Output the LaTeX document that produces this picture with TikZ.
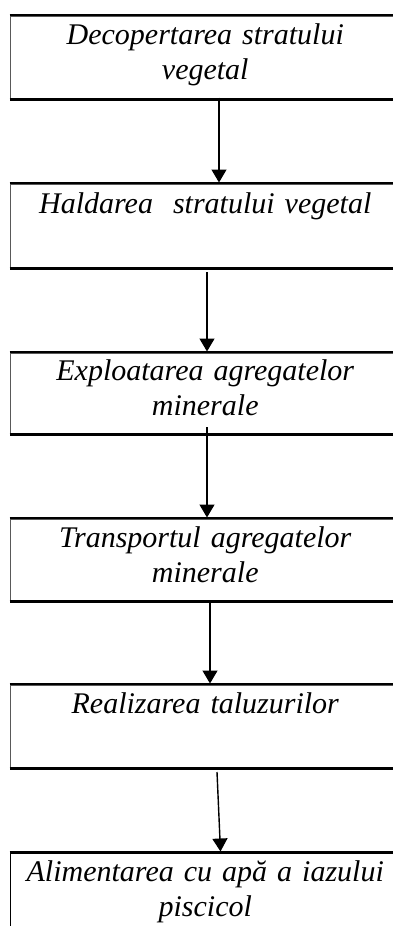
\documentclass[tikz,border=0pt]{standalone}
\usepackage{fontspec}
\setmainfont{Liberation Serif}
\usepackage{tikz}
\usetikzlibrary{arrows.meta, positioning}
\tikzset{
    stepbox/.style={draw=black!65, line width=1.5pt, anchor=north west,
        text width=380pt, inner xsep=5pt, inner ysep=2pt, align=center,
        font=\fontsize{30}{35}\selectfont\itshape},
    boxedge/.style={line width=2.6pt, black},
    flowarrow/.style={-{Triangle[length=13pt, width=15pt]}, line width=1.4pt, black}
}
\begin{document}
\begin{tikzpicture}[x=1pt, y=-1pt]
                    \clip (0,0) rectangle (393,926);
                    \fill[white] (0,0) rectangle (393,926);
                    % process steps
                    \node[stepbox, minimum height=83pt] (decop) at (9.5,15) {Decopertarea stratului\\ vegetal\strut};
                    \node[stepbox, minimum height=84pt] (hald) at (9.5,183) {Haldarea\ \ stratului vegetal\\ \strut};
                    \node[stepbox, minimum height=81pt] (exploat) at (9.5,352) {Exploatarea agregatelor\\ minerale\strut};
                    \node[stepbox, minimum height=82pt] (transp) at (9.5,518) {Transportul agregatelor\\ minerale\strut};
                    \node[stepbox, minimum height=83pt] (taluz) at (9.5,684) {Realizarea taluzurilor\\ \strut};
                    \node[stepbox, draw=black, inner ysep=8pt] (alim) at (9.5,852) {Alimentarea cu apă a iazului\\ piscicol\\ \strut};

                    % thick top and bottom edges
                    \foreach \n in {decop, hald, exploat, transp, taluz, alim}
                        \draw[boxedge] (\n.north west) -- (\n.north east) (\n.south west) -- (\n.south east);

                    % arrow ends
                    \coordinate (a1) at (219,97.7);
                    \coordinate (b1) at (219,182.5);
                    \coordinate (a2) at (207,272);
                    \coordinate (b2) at (207,351.5);
                    \coordinate (a3) at (207,427);
                    \coordinate (b3) at (207,517.5);
                    \coordinate (a4) at (210,600);
                    \coordinate (b4) at (210,683.5);
                    \coordinate (a5) at (217,772);
                    \coordinate (b5) at (220.5,851.5);

                    \draw[flowarrow] (a1) -- (b1);
                    \draw[flowarrow] (a2) -- (b2);
                    \draw[flowarrow] (a3) -- (b3);
                    \draw[flowarrow] (a4) -- (b4);
                    \draw[flowarrow] (a5) -- (b5);
                \end{tikzpicture}
\end{document}
